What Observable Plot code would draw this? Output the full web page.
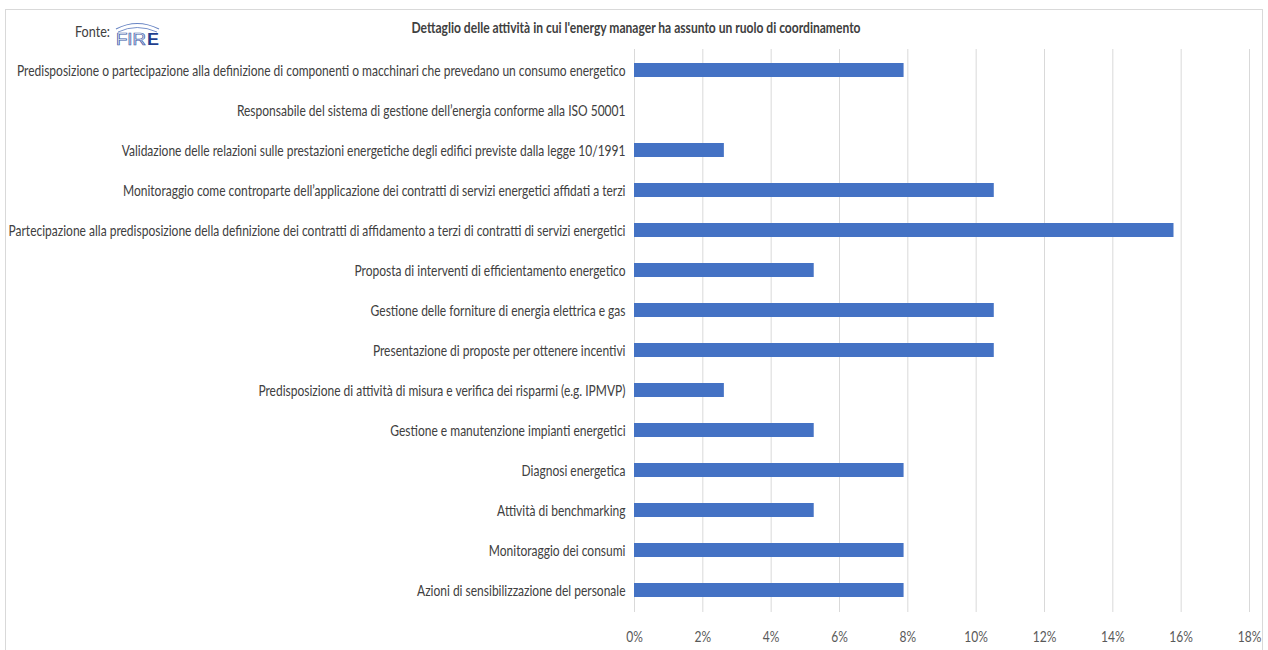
<!DOCTYPE html>
<html><head><meta charset="utf-8">
<script src="https://cdn.jsdelivr.net/npm/d3@7"></script>
<script src="https://cdn.jsdelivr.net/npm/@observablehq/plot@0.6"></script>
<style>
body{margin:0;background:#fff;font-family:Lato,sans-serif;}
#wrap{position:relative;width:1268px;height:650px;overflow:hidden;}
#frame{position:absolute;left:5px;top:9px;width:1258px;height:660px;border:1px solid #d9d9d9;box-sizing:border-box;}
#chart{position:absolute;left:0;top:0;}
#head{position:absolute;left:0;top:0;}
#logo{position:absolute;left:113px;top:18px;}
</style></head>
<body>
<div id="wrap">
<div id="frame"></div>
<div id="chart"></div>
<svg id="head" width="1268" height="50">
 <text id="title" x="636" y="33" text-anchor="middle" font-family="Lato, sans-serif" font-weight="bold" font-size="16" fill="#404040">Dettaglio delle attività in cui l'energy manager ha assunto un ruolo di coordinamento</text>
 <text id="fonte" x="75" y="37" font-family="Lato, sans-serif" font-size="16" fill="#404040">Fonte:</text>
</svg>
<svg id="logo" width="50" height="30" viewBox="0 0 50 30">
 <path d="M3 11 Q24 0 46 11" fill="none" stroke="#6a86c4" stroke-width="1.2"/>
 <path d="M5 14 Q24 5 44 14" fill="none" stroke="#6a86c4" stroke-width="0.9"/>
 <text x="3" y="27" font-family="Liberation Sans, sans-serif" font-size="16" fill="#f4f6fc" stroke="#3a5aa8" stroke-width="0.7" textLength="30" lengthAdjust="spacingAndGlyphs">FIR</text>
 <text x="34" y="27" font-family="Liberation Sans, sans-serif" font-weight="bold" font-size="16" fill="#1f3f8f" textLength="12" lengthAdjust="spacingAndGlyphs">E</text>
</svg>
</div>
<script>
const categories = [
 "Predisposizione o partecipazione alla definizione di componenti o macchinari che prevedano un consumo energetico",
 "Responsabile del sistema di gestione dell’energia conforme alla ISO 50001",
 "Validazione delle relazioni sulle prestazioni energetiche degli edifici previste dalla legge 10/1991",
 "Monitoraggio come controparte dell’applicazione dei contratti di servizi energetici affidati a terzi",
 "Partecipazione alla predisposizione della definizione dei contratti di affidamento a terzi di contratti di servizi energetici",
 "Proposta di interventi di efficientamento energetico",
 "Gestione delle forniture di energia elettrica e gas",
 "Presentazione di proposte per ottenere incentivi",
 "Predisposizione di attività di misura e verifica dei risparmi (e.g. IPMVP)",
 "Gestione e manutenzione impianti energetici",
 "Diagnosi energetica",
 "Attività di benchmarking",
 "Monitoraggio dei consumi",
 "Azioni di sensibilizzazione del personale"
];
const values = [0.0789, 0, 0.0263, 0.1053, 0.1579, 0.0526, 0.1053, 0.1053, 0.0263, 0.0526, 0.0789, 0.0526, 0.0789, 0.0789];
const xTicks = [0,0.02,0.04,0.06,0.08,0.10,0.12,0.14,0.16,0.18];

const data = categories.map((c,i)=>({cat:c, v:values[i]}));

const chart = Plot.plot({
  width:1268, height:650,
  marginLeft:634, marginRight:19, marginTop:49, marginBottom:38,
  style:{fontFamily:'Lato, sans-serif', fontSize:"16px", color:"#404040", background:"transparent"},
  x:{domain:[0,0.18], ticks:xTicks, tickFormat:d3.format(".0%"), label:null},
  y:{domain:categories, paddingInner:0.64, paddingOuter:0.32, label:null},
  marks:[
    Plot.gridX(xTicks,{stroke:"#d9d9d9", strokeOpacity:1}),
    Plot.barX(data,{y:"cat", x:"v", fill:"#4472c4"}),
    Plot.axisX({ticks:xTicks, tickFormat:d3.format(".0%"), tickSize:0, tickPadding:18, fill:"#595959", fontSize:16, label:null}),
    Plot.axisY({tickSize:0, tickPadding:9, fill:"#404040", fontSize:16, label:null})
  ]
});
document.getElementById("chart").appendChild(chart);

function squeeze(texts, k){
  texts.forEach(t=>{
    const L = t.getComputedTextLength();
    t.setAttribute("textLength", (L*k).toFixed(1));
    t.setAttribute("lengthAdjust","spacingAndGlyphs");
  });
}
const yTexts = Array.from(chart.querySelectorAll('g[aria-label="y-axis tick label"] text'));
let maxL = 0; yTexts.forEach(t=>{maxL=Math.max(maxL,t.getComputedTextLength());});
const k = 617/maxL;
squeeze(yTexts, k);
const xTexts = Array.from(chart.querySelectorAll('g[aria-label="x-axis tick label"] text'));
squeeze(xTexts, k);
const title = document.getElementById("title");
title.setAttribute("textLength", 449); title.setAttribute("lengthAdjust","spacingAndGlyphs");
const fonte = document.getElementById("fonte");
fonte.setAttribute("textLength", 35); fonte.setAttribute("lengthAdjust","spacingAndGlyphs");
</script>
</body></html>
